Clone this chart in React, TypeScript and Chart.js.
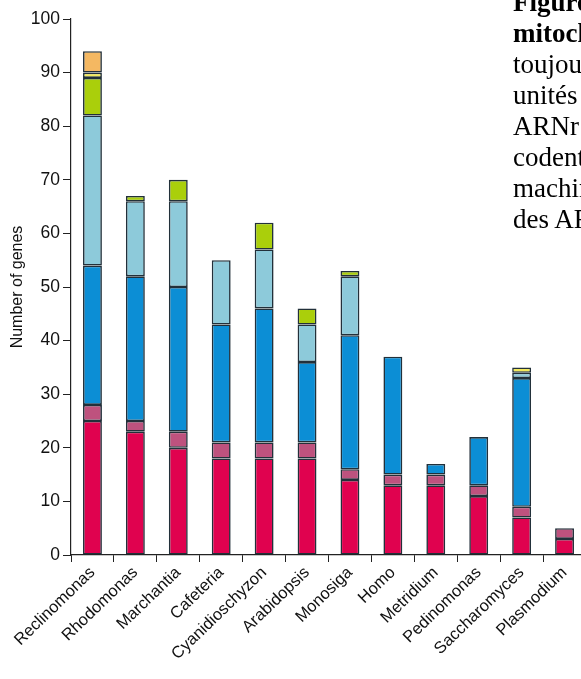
import React, { useEffect, useRef } from "react";
import { Chart, registerables } from "chart.js";

Chart.register(...registerables);

const categories = [
  "Reclinomonas",
  "Rhodomonas",
  "Marchantia",
  "Cafeteria",
  "Cyanidioschyzon",
  "Arabidopsis",
  "Monosiga",
  "Homo",
  "Metridium",
  "Pedinomonas",
  "Saccharomyces",
  "Plasmodium",
];

// stacked segments, bottom to top (null = segment absent)
const trnaGenes = [25, 23, 20, 18, 18, 18, 14, 13, 13, 11, 7, 3];
const rrnaGenes = [3, 2, 3, 3, 3, 3, 2, 2, 2, 2, 2, 2];
const respirationGenes = [26, 27, 27, 22, 25, 15, 25, 22, 2, 9, 24, null];
const ribosomalGenes = [28, 14, 16, 12, 11, 7, 11, null, null, null, 1, null];
const importGenes = [7, 1, 4, null, 5, 3, 1, null, null, null, null, null];
const polymeraseGenes = [1, null, null, null, null, null, null, null, null, null, 1, null];
const otherGenes = [4, null, null, null, null, null, null, null, null, null, null, null];

const yTicks = [0, 10, 20, 30, 40, 50, 60, 70, 80, 90, 100];

const sideText = [
  { text: "Figure 3. Contenu en gènes des génomes", bold: true },
  { text: "mitochondriaux.", bold: true },
  { text: "toujours présents", bold: false },
  { text: "unités ribosomiques", bold: false },
  { text: "ARNr et ARNt", bold: false },
  { text: "codent des protéines", bold: false },
  { text: "machinerie de traduction", bold: false },
  { text: "des ARNt", bold: false },
];

const series = [
  { label: "ARNt", data: trnaGenes, color: "#E0024F" },
  { label: "ARNr", data: rrnaGenes, color: "#BE527E" },
  { label: "Chaîne respiratoire", data: respirationGenes, color: "#0C8ED5" },
  { label: "Protéines ribosomiques", data: ribosomalGenes, color: "#8DCADA" },
  { label: "Import / maturation", data: importGenes, color: "#AACF0B" },
  { label: "ARN polymérase", data: polymeraseGenes, color: "#F3EA5C" },
  { label: "Autres", data: otherGenes, color: "#F4B862" },
];

export default function App() {
  const canvasRef = useRef<HTMLCanvasElement | null>(null);

  useEffect(() => {
    const canvas = canvasRef.current;
    if (!canvas) return;
    const chart = new Chart(canvas, {
      type: "bar",
      data: {
        labels: categories,
        datasets: series.map((s) => ({
          label: s.label,
          data: s.data as any,
          backgroundColor: s.color,
          borderColor: "#22303a",
          borderWidth: 1.6,
          borderSkipped: false,
          categoryPercentage: 1,
          barPercentage: 0.44,
        })),
      },
      options: {
        responsive: false,
        animation: false,
        layout: { padding: { top: 19, right: 4, left: 0, bottom: 0 } },
        plugins: { legend: { display: false }, tooltip: { enabled: false } },
        scales: {
          x: {
            stacked: true,
            afterFit: (scale: any) => {
              scale.height = 124;
            },
            grid: {
              display: true,
              drawOnChartArea: false,
              drawTicks: true,
              tickLength: 7,
              offset: true,
              color: "#222",
              lineWidth: 1,
            },
            border: { display: true, color: "#222", width: 1.2 },
            ticks: {
              autoSkip: false,
              maxRotation: 44,
              minRotation: 44,
              padding: 1,
              color: "#111",
              font: { family: "Liberation Sans", size: 16.5 },
            },
          },
          y: {
            stacked: true,
            min: 0,
            max: 100,
            afterFit: (scale: any) => {
              scale.width = 71;
            },
            afterBuildTicks: (scale: any) => {
              scale.ticks = yTicks.map((v) => ({ value: v }));
            },
            grid: {
              display: true,
              drawOnChartArea: false,
              drawTicks: true,
              tickLength: 8,
              color: "#222",
              lineWidth: 1,
            },
            border: { display: true, color: "#222", width: 1.2 },
            ticks: {
              padding: 3,
              color: "#111",
              font: { family: "Liberation Sans", size: 17.5 },
            },
            title: {
              display: true,
              text: "Number of genes",
              color: "#111",
              padding: { top: 8, bottom: 0 },
              font: { family: "Liberation Sans", size: 16 },
            },
          },
        },
      },
    });
    return () => chart.destroy();
  }, []);

  return (
    <div
      style={{
        position: "fixed",
        left: 0,
        top: 0,
        width: 581,
        height: 679,
        overflow: "hidden",
        background: "#fff",
      }}
    >
      <canvas
        ref={canvasRef}
        width={590}
        height={679}
        style={{ position: "absolute", left: 0, top: 0, width: 590, height: 679 }}
      />
      <div
        style={{
          position: "absolute",
          left: 513,
          top: -13,
          fontFamily: "Liberation Serif",
          fontSize: 27,
          lineHeight: "31px",
          color: "#000",
          whiteSpace: "nowrap",
        }}
      >
        {sideText.map((l, i) => (
          <div key={i} style={{ fontWeight: l.bold ? "bold" : "normal" }}>
            {l.text}
          </div>
        ))}
      </div>
    </div>
  );
}
